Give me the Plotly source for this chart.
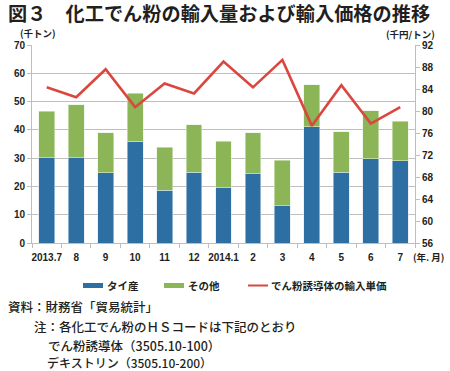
import plotly.graph_objects as go

categories = ["2013.7", "8", "9", "10", "11", "12", "2014.1", "2", "3", "4", "5", "6", "7"]
thai = [30.2, 30.2, 24.8, 35.9, 18.6, 25.1, 19.6, 24.5, 13.2, 41.1, 25.0, 29.7, 29.0]
other_total = [46.5, 48.9, 38.9, 52.9, 33.8, 41.8, 36.0, 38.9, 29.3, 55.9, 39.3, 46.8, 43.0]
others = [round(t - b, 1) for t, b in zip(other_total, thai)]
price = [84.3, 82.5, 87.6, 80.7, 85.0, 83.2, 89.0, 84.3, 89.3, 77.3, 84.7, 77.7, 80.7]

BLUE = "#2D6FA3"
GREEN = "#8BB556"
RED = "#D9473F"
TXT = "#231F20"
GRID = "#BEBEBE"
JP = "Noto Sans CJK JP"
LAT = "Liberation Sans"

W, H = 450, 371
L, R, T, B = 32, 35, 45, 128
PW, PH = W - L - R, H - T - B

def px(x):
    return (x - L) / PW

def py(y):
    return (H - B - y) / PH

fig = go.Figure()
fig.add_trace(go.Bar(x=categories, y=thai, marker=dict(color=BLUE, line=dict(color="rgba(220,230,240,0.7)", width=0.8)), name="タイ産"))
fig.add_trace(go.Bar(x=categories, y=others, marker=dict(color=GREEN, line=dict(color="rgba(230,240,220,0.7)", width=0.8)), name="その他"))
fig.add_trace(go.Scatter(x=categories, y=price, yaxis="y2", mode="lines",
                         line=dict(color=RED, width=2.6), name="でん粉誘導体の輸入単価"))

fig.update_layout(
    width=W, height=H,
    margin=dict(l=L, r=R, t=T, b=B),
    paper_bgcolor="white", plot_bgcolor="white",
    barmode="stack", bargap=0.46,
    showlegend=False,
    font=dict(family=LAT, color=TXT, size=10),
    xaxis=dict(type="category", showline=True, linecolor=GRID, linewidth=1,
               ticks="outside", tickson="boundaries", ticklen=4, tickcolor=GRID,
               tickangle=0, automargin=False, ticklabelstandoff=5,
               tickfont=dict(family=LAT, size=10, color=TXT, weight="bold"),
               showgrid=False, fixedrange=True),
    yaxis=dict(range=[0, 70], dtick=10, showline=True, linecolor=GRID, linewidth=1,
               ticks="outside", ticklen=4, tickcolor=GRID, automargin=False,
               showgrid=True, gridcolor=GRID, gridwidth=1, zeroline=False,
               tickfont=dict(family=LAT, size=10, color=TXT, weight="bold")),
    yaxis2=dict(range=[56, 92], dtick=4, overlaying="y", side="right",
                showline=True, linecolor=GRID, linewidth=1, automargin=False,
                ticks="outside", ticklen=4, tickcolor=GRID,
                showgrid=False, zeroline=False,
                tickfont=dict(family=LAT, size=10, color=TXT, weight="bold")),
)

ann = []
def text(x, y, s, size=10, anchor="left", weight="normal", family=JP, pad=1):
    ann.append(dict(x=px(x), y=py(y), xref="paper", yref="paper", text=s, showarrow=False,
                    xanchor=anchor, yanchor="middle", borderpad=pad,
                    font=dict(family=family, size=size, color=TXT, weight=weight)))

text(7, 13.5, "図３　化工でん粉の輸入量および輸入価格の推移", size=19.2, weight="bold", pad=0)
text(19, 32.5, "(千トン)", size=9.5, weight="bold", pad=0)
text(436, 34, "(千円/トン)", size=9.5, anchor="right", weight="bold", pad=0)
text(411, 256.5, "(年. 月)", size=9.5, anchor="left", weight="bold")

shapes = []
# legend
shapes.append(dict(type="rect", xref="paper", yref="paper", x0=px(83), x1=px(103), y0=py(288), y1=py(283),
                   fillcolor=BLUE, line=dict(width=0)))
text(105, 285.7, "タイ産", size=10.5, weight="bold")
shapes.append(dict(type="rect", xref="paper", yref="paper", x0=px(164), x1=px(184), y0=py(288), y1=py(283),
                   fillcolor=GREEN, line=dict(width=0)))
text(186, 285.7, "その他", size=10.5, weight="bold")
shapes.append(dict(type="line", xref="paper", yref="paper", x0=px(248), x1=px(268), y0=py(285.5), y1=py(285.5),
                   line=dict(color=RED, width=2)))
text(269, 285.7, "でん粉誘導体の輸入単価", size=10.5, weight="bold")

# notes
text(6, 306, "資料：財務省「貿易統計」", size=12.5, weight=500)
text(32, 326, "注：各化工でん粉のＨＳコードは下記のとおり", size=12.5, weight=500)
text(46, 345.5, "でん粉誘導体（3505.10-100）", size=12.5, weight=500)
text(46, 362.5, "デキストリン（3505.10-200）", size=12, weight=500, pad=0)

fig.update_layout(annotations=ann, shapes=shapes)
fig.write_html("out.html", config={"displayModeBar": False},
               post_script="document.body.style.margin='0';document.body.style.overflow='hidden';")
